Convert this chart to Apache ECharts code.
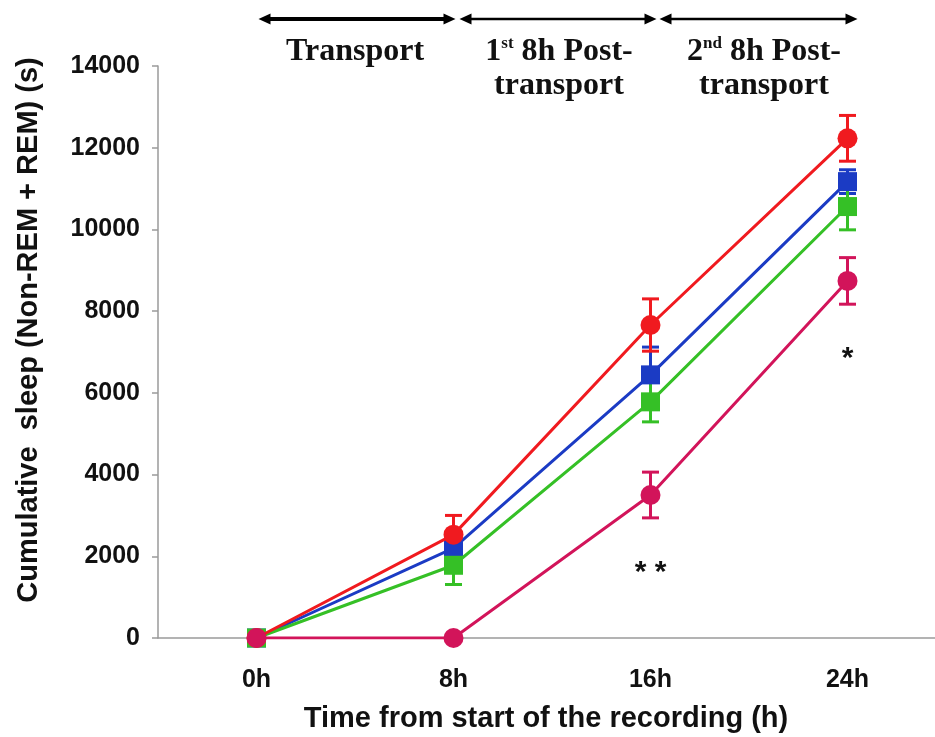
<!DOCTYPE html>
<html>
<head>
<meta charset="utf-8">
<script src="https://cdn.jsdelivr.net/npm/echarts@6/dist/echarts.min.js"></script>
<style>
  html, body { margin: 0; padding: 0; background: #ffffff; }
  #chart { width: 935px; height: 737px; }
</style>
</head>
<body>
<div id="chart"></div>
<script>
// Time points of the recording
const hours = ['0h', '8h', '16h', '24h'];

// Cumulative sleep (s): mean and error per group
const redMean = [0, 2530, 7660, 12230];
const redErr = [0, 470, 640, 560];
const blueMean = [0, 2200, 6440, 11170];
const blueErr = [0, 350, 680, 290];
const greenMean = [0, 1780, 5780, 10560];
const greenErr = [0, 470, 490, 570];
const crimsonMean = [0, 0, 3500, 8740];
const crimsonErr = [0, 0, 560, 570];

// Y axis range
const yMin = 0, yMax = 14000, yStep = 2000;

// Recording periods drawn above the plot (from category index to category index)
const periods = [
  { from: 0, to: 1, lines: ['{n|Transport}'] },
  { from: 1, to: 2, lines: ['{n|1}{s|st}{n| 8h Post-}', '{n|transport}'] },
  { from: 2, to: 3, lines: ['{n|2}{s|nd}{n| 8h Post-}', '{n|transport}'] }
];

// Significance marks under the crimson group
const sigMarks = [
  { idx: 2, text: '* *' },
  { idx: 3, text: '*' }
];

const COLORS = {
  red: '#f01a1f',
  blue: '#1b3bc4',
  green: '#35c026',
  crimson: '#d2145a'
};

const SANS = '"Liberation Sans", Arial, sans-serif';
const SERIF = '"Liberation Serif", "Times New Roman", serif';

function errData(mean, err) {
  return mean.map((m, i) => [i, m - err[i], m + err[i], err[i]]);
}

function errorBarSeries(mean, err, color) {
  return {
    type: 'custom',
    z: 1,
    silent: true,
    data: errData(mean, err),
    encode: { x: 0, y: [1, 2] },
    renderItem: function (params, api) {
      if (api.value(3) === 0) return null;
      const lo = api.coord([api.value(0), api.value(1)]);
      const hi = api.coord([api.value(0), api.value(2)]);
      const half = 8.5;
      const st = { stroke: color, lineWidth: 3 };
      return {
        type: 'group',
        children: [
          { type: 'line', shape: { x1: hi[0], y1: hi[1], x2: lo[0], y2: lo[1] }, style: st },
          { type: 'line', shape: { x1: hi[0] - half, y1: hi[1], x2: hi[0] + half, y2: hi[1] }, style: st },
          { type: 'line', shape: { x1: lo[0] - half, y1: lo[1], x2: lo[0] + half, y2: lo[1] }, style: st }
        ]
      };
    }
  };
}

function lineSeries(name, mean, color, symbol, z) {
  return {
    name: name,
    type: 'line',
    z: z,
    data: mean,
    symbol: symbol,
    symbolSize: symbol === 'rect' ? 19 : 20,
    showSymbol: true,
    lineStyle: { color: color, width: 3 },
    itemStyle: { color: color, borderWidth: 0 }
  };
}

const chart = echarts.init(document.getElementById('chart'), null, { renderer: 'canvas' });

const option = {
  animation: false,
  backgroundColor: '#ffffff',
  grid: {
    left: 158,
    top: 66,
    width: 788,
    height: 572,
    containLabel: false,
    outerBoundsMode: 'none'
  },
  xAxis: {
    type: 'category',
    data: hours,
    boundaryGap: true,
    axisLine: { lineStyle: { color: '#9a9a9a', width: 1.5 } },
    axisTick: { alignWithLabel: true, length: 15, lineStyle: { color: '#222', width: 2 } },
    axisLabel: { color: '#111', fontFamily: SANS, fontWeight: 'bold', fontSize: 25, margin: 30 },
    splitLine: { show: false },
    name: 'Time from start of the recording (h)',
    nameLocation: 'middle',
    nameGap: 66,
    nameTextStyle: { color: '#111', fontFamily: SANS, fontWeight: 'bold', fontSize: 29, padding: [0, 12, 0, 0] }
  },
  yAxis: {
    type: 'value',
    min: yMin,
    max: yMax,
    interval: yStep,
    axisLine: { show: true, lineStyle: { color: '#9a9a9a', width: 1.5 } },
    axisTick: { show: true, length: 6, lineStyle: { color: '#9a9a9a', width: 1.5 } },
    axisLabel: {
      color: '#111', fontFamily: SANS, fontWeight: 'bold', fontSize: 25, margin: 18,
      formatter: function (v) { return String(v); }
    },
    splitLine: { show: false },
    name: 'Cumulative  sleep (Non-REM + REM) (s)',
    nameLocation: 'middle',
    nameRotate: 90,
    nameGap: 115,
    nameTextStyle: { color: '#111', fontFamily: SANS, fontWeight: 'bold', fontSize: 29, padding: [0, 0, 0, 44] }
  },
  series: [
    errorBarSeries(blueMean, blueErr, COLORS.blue),
    errorBarSeries(greenMean, greenErr, COLORS.green),
    errorBarSeries(redMean, redErr, COLORS.red),
    errorBarSeries(crimsonMean, crimsonErr, COLORS.crimson),
    lineSeries('blue', blueMean, COLORS.blue, 'rect', 2),
    lineSeries('green', greenMean, COLORS.green, 'rect', 3),
    lineSeries('red', redMean, COLORS.red, 'circle', 4),
    lineSeries('crimson', crimsonMean, COLORS.crimson, 'circle', 5)
  ]
};

chart.setOption(option);

// Period arrows and labels above the plot, positioned from the category axis
function px(idx, val) {
  return chart.convertToPixel({ gridIndex: 0 }, [idx, val]);
}

function arrowElements(xa, xb, y, w) {
  const head = 12, hh = 5.5;
  return [
    { type: 'line', shape: { x1: xa + head - 2, y1: y, x2: xb - head + 2, y2: y }, style: { stroke: '#000', lineWidth: w } },
    { type: 'polygon', shape: { points: [[xa, y], [xa + head, y - hh], [xa + head, y + hh]] }, style: { fill: '#000' } },
    { type: 'polygon', shape: { points: [[xb, y], [xb - head, y - hh], [xb - head, y + hh]] }, style: { fill: '#000' } }
  ];
}

const graphics = [];
const arrowY = 19;
const shifts = [[2, 2, 0], [6, 6, 7], [9, 10, 15]];
periods.forEach((p, k) => {
  const xa = px(p.from, 0)[0] + shifts[k][0];
  const xb = px(p.to, 0)[0] + shifts[k][1];
  arrowElements(xa, xb, arrowY, k === 0 ? 4 : 2.5).forEach(e => graphics.push(e));
  graphics.push({
    type: 'text',
    x: (px(p.from, 0)[0] + px(p.to, 0)[0]) / 2 + shifts[k][2],
    y: 35,
    style: {
      text: p.lines.join('\n'),
      align: 'center',
      verticalAlign: 'top',
      fill: '#111',
      rich: {
        n: { fontFamily: SERIF, fontWeight: 'bold', fontSize: 32, lineHeight: 34, fill: '#111' },
        s: { fontFamily: SERIF, fontWeight: 'bold', fontSize: 17, lineHeight: 34, verticalAlign: 'top', fill: '#111', padding: [0, 0, 14, 0] }
      }
    }
  });
});

sigMarks.forEach(m => {
  const p = px(m.idx, crimsonMean[m.idx]);
  graphics.push({
    type: 'text',
    x: p[0],
    y: p[1] + 78,
    style: {
      text: m.text,
      align: 'center',
      verticalAlign: 'middle',
      font: 'bold 30px ' + SANS,
      fill: '#111'
    }
  });
});

chart.setOption({ graphic: { elements: graphics } });
</script>
</body>
</html>
